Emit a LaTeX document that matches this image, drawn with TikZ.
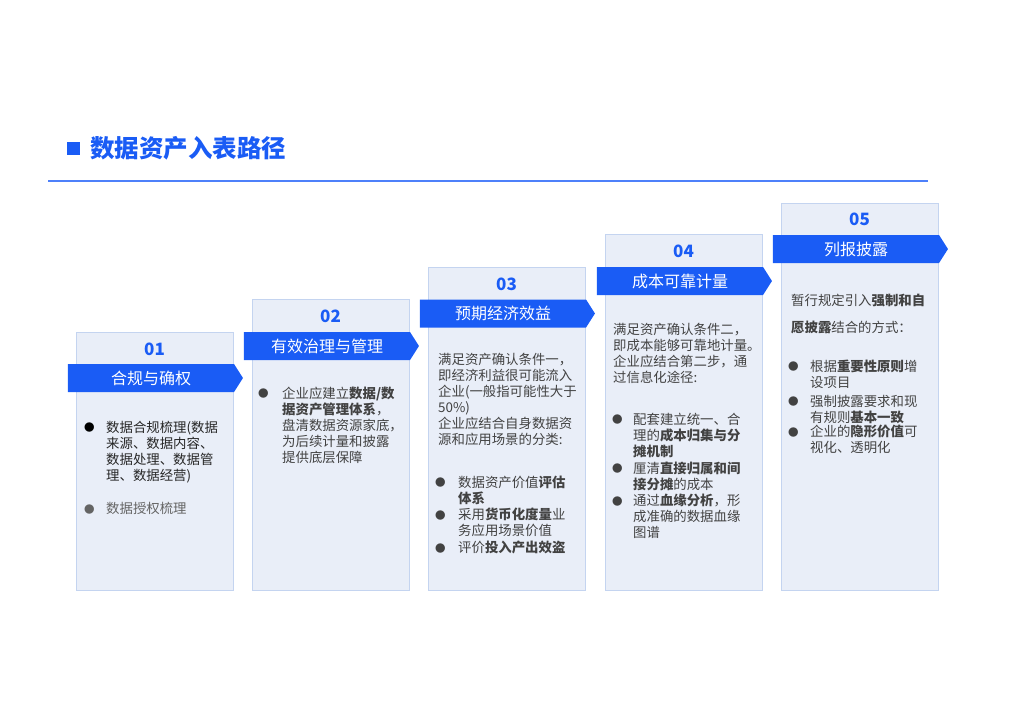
\documentclass[tikz,border=0pt]{standalone}
\usepackage{fontspec}
\setmainfont{Noto Sans CJK SC}
\usepackage{xcolor}
\usepackage{tikz}
\usetikzlibrary{
	shapes.symbols,positioning
}

\definecolor{mainblue}{RGB}{26,92,245}
\definecolor{rulblue}{RGB}{77,128,250}
\definecolor{cardfill}{RGB}{233,238,248}
\definecolor{cardline}{RGB}{196,212,240}
\definecolor{bodygray}{RGB}{66,66,66}
\definecolor{softgray}{RGB}{100,100,100}

\newcommand{\dotm}{\raisebox{0.2pt}{\fontsize{10.5}{10.5}\selectfont ●}}

\tikzset{
	card/.style={draw=cardline,fill=cardfill,line width=1pt,minimum width=157pt,
		anchor=north west,inner sep=0pt},
	stepnum/.style={text=mainblue,font=\fontsize{17}{17}\selectfont\bfseries},
	banner/.style={shape=signal,signal to=east,signal pointer angle=115,fill=mainblue,
		text=white,minimum width=175pt,minimum height=28pt,inner sep=0pt,
		font=\fontsize{16}{16}\selectfont},
	body/.style={text=bodygray,anchor=base west,inner sep=0pt,
		font=\fontsize{13.4}{16}\selectfont}
}

\begin{document}
\begin{tikzpicture}[x=1pt,y=-1pt]
	\useasboundingbox (0,0) rectangle (1024,724);
	% title
	\node[fill=mainblue,minimum size=13pt,inner sep=0pt] (sq) at (73.5,148.5) {};
	\node[anchor=west,text=mainblue,inner sep=0pt,
		font=\fontsize{24.5}{24.5}\selectfont\bfseries] (title) at (90,148) {数据资产入表路径};
	\coordinate (rl) at (48,181);
	\coordinate (rr) at (928,181);
	\draw[rulblue,line width=1.5pt] (rl) -- (rr);
	% cards
	\node[card,minimum height=258pt] (c1) at (76,332) {};
	\node[card,minimum height=291pt] (c2) at (252,299) {};
	\node[card,minimum height=323pt] (c3) at (428,267) {};
	\node[card,minimum height=356pt] (c4) at (605,234) {};
	\node[card,minimum height=387pt] (c5) at (781,203) {};
	% numbers
	\node[stepnum] (n1) at (154.5,349) {01};
	\node[stepnum] (n2) at (330.5,316) {02};
	\node[stepnum] (n3) at (506.5,284) {03};
	\node[stepnum] (n4) at (683.5,251) {04};
	\node[stepnum] (n5) at (859.5,219) {05};
	% banners
	\node[banner] (b1) at (151,378) {合规与确权};
	\node[banner] (b2) at (327,346) {有效治理与管理};
	\node[banner] (b3) at (503,313.5) {预期经济效益};
	\node[banner] (b4) at (680,281) {成本可靠计量};
	\node[banner] (b5) at (856,249) {列报披露};
	% texts
	\node[body] (l1) at (83.8,432) {\begin{tabular}[t]{@{}l@{\hspace{11.7pt}}l@{}}
		\color{black}\dotm & \color{black!85}数据合规梳理(数据\\
		& \color{black!85}来源、数据内容、\\
		& \color{black!85}数据处理、数据管\\
		& \color{black!85}理、数据经营)\\[17pt]
		\color{softgray}\dotm & \color{softgray}数据授权梳理
	\end{tabular}};
	\node[body] (l2) at (257.8,398) {\begin{tabular}[t]{@{}l@{\hspace{13.7pt}}l@{}}
		\dotm & 企业应建立\textbf{数据/数}\\
		& \textbf{据资产管理体系}，\\
		& 盘清数据资源家底，\\
		& 为后续计量和披露\\
		& 提供底层保障
	\end{tabular}};
	\node[body] (i3) at (438,364) {\begin{tabular}[t]{@{}l@{}}
		满足资产确认条件一，\\
		即经济利益很可能流入\\
		企业(一般指可能性大于\\
		50\%)\\
		企业应结合自身数据资\\
		源和应用场景的分类:
	\end{tabular}};
	\node[body] (l3) at (434.8,487) {\begin{tabular}[t]{@{}l@{\hspace{12.7pt}}l@{}}
		\dotm & 数据资产价值\textbf{评估}\\
		& \textbf{体系}\\
		\dotm & 采用\textbf{货币化度量}业\\
		& 务应用场景价值\\
		\dotm & 评价\textbf{投入产出效盗}
	\end{tabular}};
	\node[body] (i4) at (613,334) {\begin{tabular}[t]{@{}l@{}}
		满足资产确认条件二，\\
		即成本能够可靠地计量。\\
		企业应结合第二步，通\\
		过信息化途径:
	\end{tabular}};
	\node[body] (l4) at (611.8,424) {\begin{tabular}[t]{@{}l@{\hspace{10.7pt}}l@{}}
		\dotm & 配套建立统一、合\\
		& 理的\textbf{成本归集与分}\\
		& \textbf{摊机制}\\
		\dotm & 厘清\textbf{直接归属和间}\\
		& \textbf{接分摊}的成本\\
		\dotm & 通过\textbf{血缘分析}，形\\
		& 成准确的数据血缘\\
		& 图谱
	\end{tabular}};
	\node[body] (i5) at (791,305) {\begin{tabular}[t]{@{}l@{}}
		暂行规定引入\textbf{强制和自}\\[11pt]
		\textbf{愿披露}结合的方式：
	\end{tabular}};
	\node[body] (l5) at (787.8,371) {\begin{tabular}[t]{@{}l@{\hspace{11.7pt}}l@{}}
		\dotm & 根据\textbf{重要性原则}增\\
		& 设项目\\[3pt]
		\dotm & 强制披露要求和现\\
		& 有规则\textbf{基本一致}\\[-2pt]
		\dotm & 企业的\textbf{隐形价值}可\\
		& 视化、透明化
	\end{tabular}};
\end{tikzpicture}
\end{document}
